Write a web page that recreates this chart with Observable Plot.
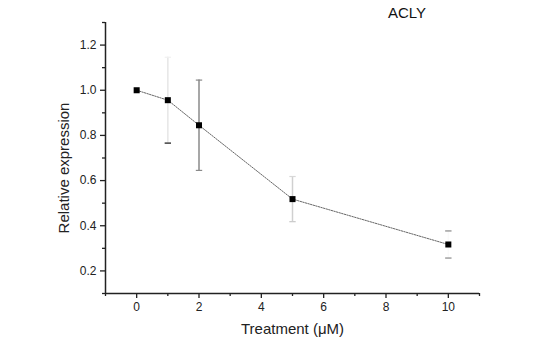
<!DOCTYPE html>
<html>
<head>
<meta charset="utf-8">
<script src="https://cdn.jsdelivr.net/npm/d3@7"></script>
<script src="https://cdn.jsdelivr.net/npm/@observablehq/plot@0.6"></script>
<style>
  html, body { margin: 0; padding: 0; background: #fff; }
  #wrap { position: relative; width: 552px; height: 341px; font-family: "Liberation Sans", Arial, sans-serif; }
  #title { position: absolute; left: 388px; top: 4px; font-size: 15px; color: #111; z-index: 2; }
</style>
</head>
<body>
<div id="wrap"><div id="title">ACLY</div></div>
<script>
const chartTitle = "ACLY";
const xLabel = "Treatment (\u03BCM)";
const yLabel = "Relative expression";
const treatment = [0, 1, 2, 5, 10];
const expression = [1.0, 0.956, 0.845, 0.518, 0.317];
const errorSD = [0, 0.19, 0.2, 0.1, 0.06];
const errorColors = ["#000", "#e6e6e6", "#8a8a8a", "#d0d0d0", "#fafafa"];
const lowCapColors = ["#000", "#111", "#8a8a8a", "#c8c8c8", "#888"];
const highCapColors = ["#000", "#f0f0f0", "#8a8a8a", "#d8d8d8", "#888"];
const xTicks = [0, 2, 4, 6, 8, 10];
const xMinorTicks = [-1, 1, 3, 5, 7, 9, 11];
const yTicks = [0.2, 0.4, 0.6, 0.8, 1.0, 1.2];
const yMinorTicks = [0.1, 0.3, 0.5, 0.7, 0.9, 1.1, 1.3];
const xDomain = [-1, 11];
const yDomain = [0.1, 1.3];

document.getElementById("title").textContent = chartTitle;

const data = treatment.map((x, i) => ({
  x, y: expression[i],
  lo: expression[i] - errorSD[i], hi: expression[i] + errorSD[i],
  c: errorColors[i], cl: lowCapColors[i], ch: highCapColors[i], sd: errorSD[i]
}));
const bars = data.filter(d => d.sd > 0);

const cap = { draw(ctx, size) { const r = Math.sqrt(size); ctx.moveTo(-r, 0); ctx.lineTo(r, 0); } };

const chart = Plot.plot({
  width: 552,
  height: 341,
  marginLeft: 105,
  marginRight: 73,
  marginTop: 22,
  marginBottom: 48,
  style: { fontFamily: "Liberation Sans, Arial, sans-serif", fontSize: "12px", color: "#222", background: "transparent" },
  x: { domain: xDomain },
  y: { domain: yDomain },
  marks: [
    Plot.ruleX(bars, { x: "x", y1: "lo", y2: "hi", stroke: d => d.c, strokeWidth: 1.5 }),
    Plot.dot(bars, { x: "x", y: "lo", symbol: cap, r: 1.8, stroke: d => d.cl, strokeWidth: 1.2, fill: "none" }),
    Plot.dot(bars, { x: "x", y: "hi", symbol: cap, r: 1.8, stroke: d => d.ch, strokeWidth: 1.2, fill: "none" }),
    Plot.line(data, { x: "x", y: "y", stroke: "#666", strokeWidth: 1, strokeDasharray: "1.5,1.2" }),
    Plot.dot(data, { x: "x", y: "y", symbol: "square", r: 3.4, fill: "#000", stroke: "none" }),
    Plot.ruleX([xDomain[0]], { stroke: "#222", strokeWidth: 1.5 }),
    Plot.ruleY([yDomain[0]], { stroke: "#222", strokeWidth: 1.5 }),
    Plot.axisY(yTicks, { tickSize: 5, tickPadding: 4, strokeWidth: 1.3, stroke: "#222", tickFormat: d => d.toFixed(1), label: null }),
    Plot.axisY(yMinorTicks, { tickSize: 3, strokeWidth: 1.3, stroke: "#222", tickFormat: () => "", label: null }),
    Plot.axisX(xTicks, { tickSize: 5, tickPadding: 4, strokeWidth: 1.3, stroke: "#222", label: null }),
    Plot.axisX(xMinorTicks, { tickSize: 3, strokeWidth: 1.3, stroke: "#222", tickFormat: () => "", label: null }),
    Plot.text([yLabel], { frameAnchor: "left", textAnchor: "middle", lineAnchor: "middle", dx: -41, dy: 10, rotate: -90, text: d => d, fontSize: 15, fill: "#222" }),
    Plot.text([xLabel], { frameAnchor: "bottom", textAnchor: "middle", lineAnchor: "middle", dy: 36, text: d => d, fontSize: 15, fill: "#222" })
  ]
});
document.getElementById("wrap").appendChild(chart);
</script>
</body>
</html>
